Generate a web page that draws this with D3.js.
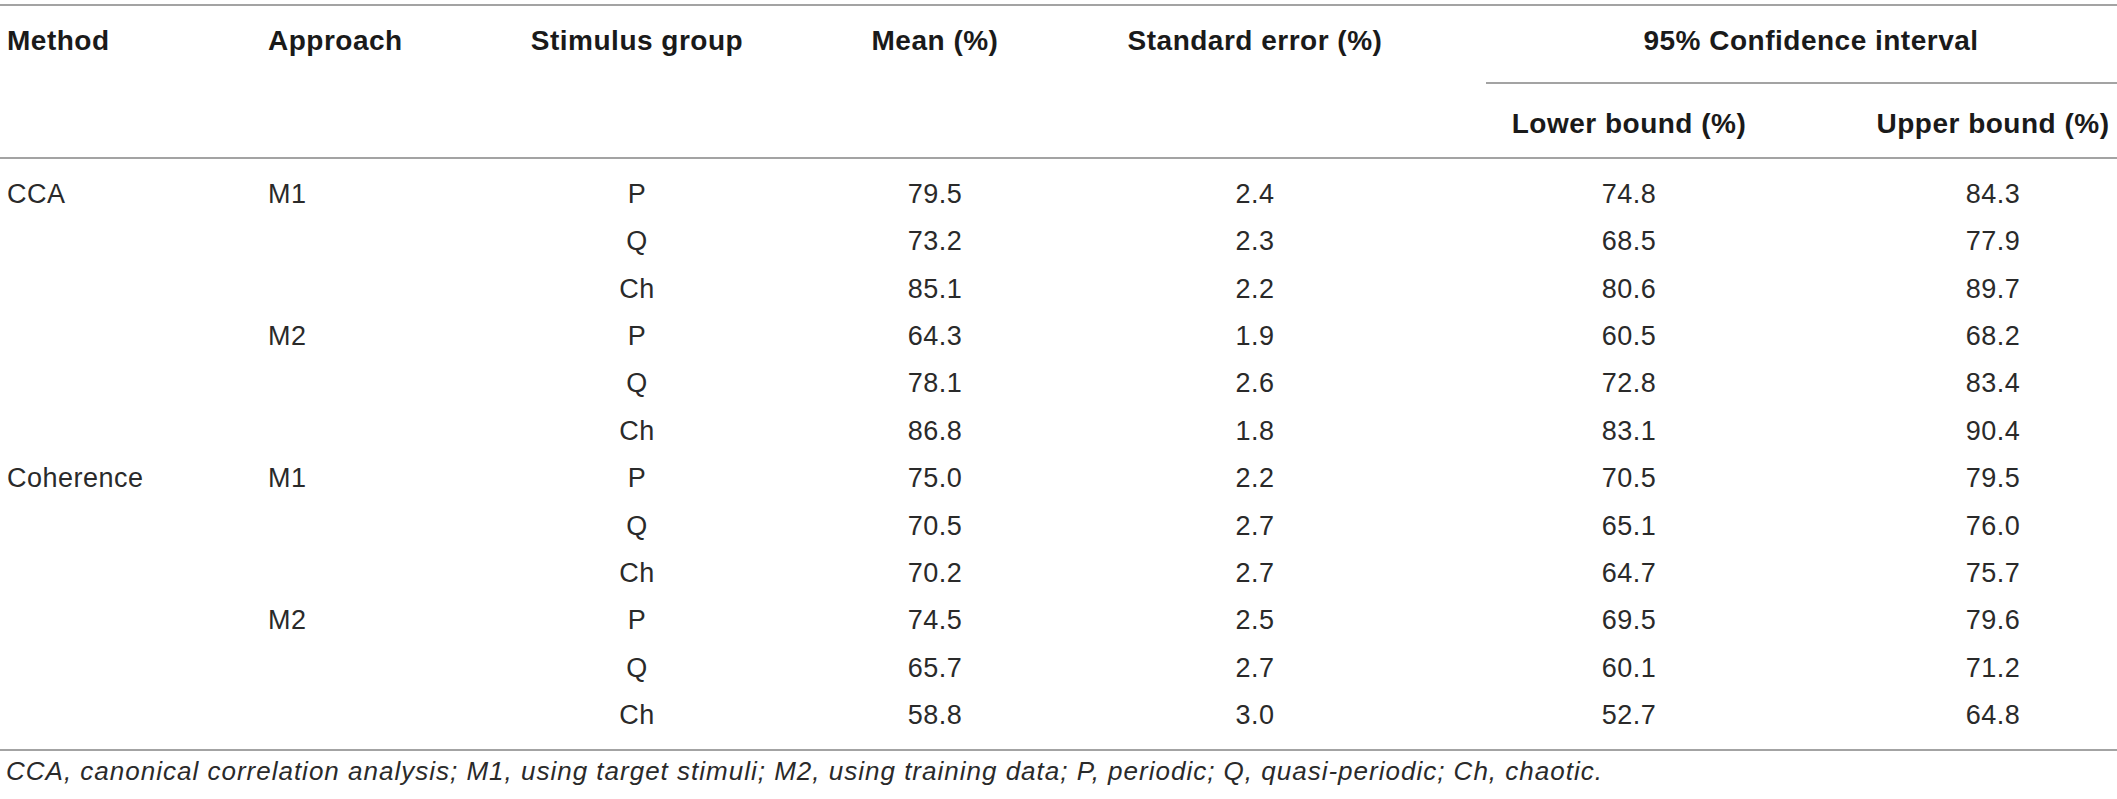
<!DOCTYPE html>
<html>
<head>
<meta charset="utf-8">
<script src="https://cdn.jsdelivr.net/npm/d3@7"></script>
<style>
  body { margin: 0; background: #fff; }
  text { font-family: "Liberation Sans", Arial, sans-serif; }
  .head { font-weight: bold; font-size: 28px; fill: #1a1a1a; letter-spacing: 0.5px; }
  .cell { font-size: 27px; fill: #2a2a2a; letter-spacing: 0.5px; }
  .note { font-size: 26px; font-style: italic; fill: #2a2a2a; letter-spacing: 1px; }
  .rule { stroke: #858585; stroke-width: 1.6; }
</style>
</head>
<body>
<svg id="table" width="2117" height="799"></svg>
<script>
// row labels
const methods = ['CCA', 'Coherence']
const approaches = ['M1', 'M2']
const groups = ['P', 'Q', 'Ch']

// values, one per row (method > approach > group)
const means = [79.5, 73.2, 85.1, 64.3, 78.1, 86.8, 75.0, 70.5, 70.2, 74.5, 65.7, 58.8]
const stdErrors = [2.4, 2.3, 2.2, 1.9, 2.6, 1.8, 2.2, 2.7, 2.7, 2.5, 2.7, 3.0]
const lowerBounds = [74.8, 68.5, 80.6, 60.5, 72.8, 83.1, 70.5, 65.1, 64.7, 69.5, 60.1, 52.7]
const upperBounds = [84.3, 77.9, 89.7, 68.2, 83.4, 90.4, 79.5, 76.0, 75.7, 79.6, 71.2, 64.8]

const columns = ['method', 'approach', 'group', 'mean', 'se', 'lower', 'upper']
const headers = ['Method', 'Approach', 'Stimulus group', 'Mean (%)', 'Standard error (%)']
const subHeaders = ['Lower bound (%)', 'Upper bound (%)']
const spanHeader = '95% Confidence interval'
const footnote = 'CCA, canonical correlation analysis; M1, using target stimuli; M2, using training data; P, periodic; Q, quasi-periodic; Ch, chaotic.'

// build the rows from the small arrays above
const rows = []
methods.forEach((m, mi) => {
  approaches.forEach((a, ai) => {
    groups.forEach((g, gi) => {
      const i = mi * 6 + ai * 3 + gi
      rows.push({
        method: ai === 0 && gi === 0 ? m : '',
        approach: gi === 0 ? a : '',
        group: g,
        mean: means[i].toFixed(1),
        se: stdErrors[i].toFixed(1),
        lower: lowerBounds[i].toFixed(1),
        upper: upperBounds[i].toFixed(1)
      })
    })
  })
})

const width = 2117
const svg = d3.select('#table')

// column anchors: first two columns are left aligned, the rest centred
const xScale = d3.scaleOrdinal()
  .domain(columns)
  .range([7, 268, 637, 935, 1255, 1629, 1993])
const anchor = c => (c === 'method' || c === 'approach') ? 'start' : 'middle'

const yScale = d3.scaleLinear()
  .domain([0, rows.length - 1])
  .range([203, 724])

// horizontal rules
svg.selectAll('line.rule')
  .data([
    { x1: 0, x2: width, y: 5 },
    { x1: 1486, x2: width, y: 83 },
    { x1: 0, x2: width, y: 158 },
    { x1: 0, x2: width, y: 750 }
  ])
  .join('line')
  .attr('class', 'rule')
  .attr('x1', d => d.x1)
  .attr('x2', d => d.x2)
  .attr('y1', d => d.y)
  .attr('y2', d => d.y)

// header, first line
svg.selectAll('text.h1')
  .data(headers)
  .join('text')
  .attr('class', 'head h1')
  .attr('x', (d, i) => xScale(columns[i]))
  .attr('y', 50)
  .attr('text-anchor', (d, i) => anchor(columns[i]))
  .text(d => d)

svg.append('text')
  .attr('class', 'head')
  .attr('x', (xScale('lower') + xScale('upper')) / 2)
  .attr('y', 50)
  .attr('text-anchor', 'middle')
  .text(spanHeader)

// header, second line
svg.selectAll('text.h2')
  .data(subHeaders)
  .join('text')
  .attr('class', 'head h2')
  .attr('x', (d, i) => xScale(columns[5 + i]))
  .attr('y', 133)
  .attr('text-anchor', 'middle')
  .text(d => d)

// body cells
const rowG = svg.selectAll('g.row')
  .data(rows)
  .join('g')
  .attr('class', 'row')
  .attr('transform', (d, i) => `translate(0,${yScale(i)})`)

rowG.selectAll('text')
  .data(d => columns.map(c => ({ c, v: d[c] })).filter(e => e.v !== ''))
  .join('text')
  .attr('class', 'cell')
  .attr('x', d => xScale(d.c))
  .attr('text-anchor', d => anchor(d.c))
  .text(d => d.v)

svg.append('text')
  .attr('class', 'note')
  .attr('x', 6)
  .attr('y', 780)
  .text(footnote)
</script>
</body>
</html>
